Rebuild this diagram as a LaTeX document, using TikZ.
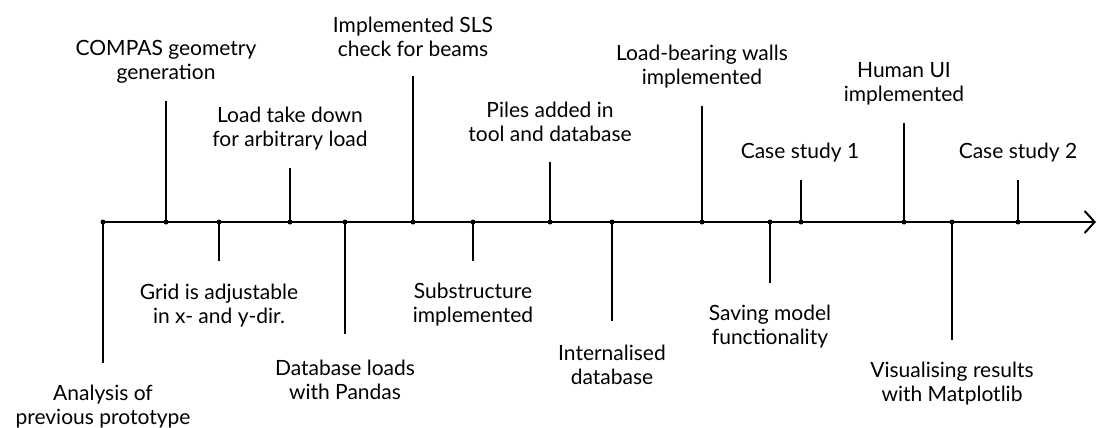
\documentclass[tikz,border=0pt]{standalone}
\usepackage{fontspec}
\setmainfont{Lato}
\usetikzlibrary{arrows.meta}
\tikzset{
  lbl/.style={align=center, inner sep=0pt, font=\fontsize{21}{24}\selectfont},
  tick/.style={line width=1.5pt},
  dot/.style={circle, fill=black, inner sep=0pt, minimum size=5pt},
  axis/.style={line width=2pt, -{Straight Barb[length=10pt,width=22pt,line width=2pt]}}
}
\begin{document}
\begin{tikzpicture}[x=1pt,y=-1pt]
\useasboundingbox (0,0) rectangle (1097,428);
% axis
\coordinate (start) at (103,222);
\coordinate (end) at (1096,222);
\draw[axis] (start) -- (end);
% events: x, tick end y
\foreach \n/\x/\y in {1/103/363, 2/166/101, 3/219/261, 4/290/168, 5/345/334, 6/413/76, 7/473/261, 8/550/162, 9/612/321, 10/702/106, 11/770/283, 12/801/180, 13/904/123, 14/952/340, 15/1018/180}{
  \node[dot] (p\n) at (\x,222) {};
  \coordinate (e\n) at (\x,\y);
  \draw[tick] (p\n.center) -- (e\n);
}
% labels
\node[lbl] (l1) at (103,407) {Analysis of\\previous prototype};
\node[lbl] (l2) at (166,62) {COMPAS geometry\\generation};
\node[lbl] (l3) at (219,306) {Grid is adjustable\\in x- and y-dir.};
\node[lbl] (l4) at (290,129) {Load take down\\for arbitrary load};
\node[lbl] (l5) at (345,380) {Database loads\\with Pandas};
\node[lbl] (l6) at (413,37) {Implemented SLS\\check for beams};
\node[lbl] (l7) at (473,305) {Substructure\\implemented};
\node[lbl] (l8) at (550,122) {Piles added in\\tool and database};
\node[lbl] (l9) at (612,365) {Internalised\\database};
\node[lbl] (l10) at (702,67) {Load-bearing walls\\implemented};
\node[lbl] (l11) at (770,327) {Saving model\\functionality};
\node[lbl] (l12) at (800,153) {Case study 1};
\node[lbl] (l13) at (904,84) {Human UI\\implemented};
\node[lbl] (l14) at (952,384) {Visualising results\\with Matplotlib};
\node[lbl] (l15) at (1018,153) {Case study 2};
\end{tikzpicture}
\end{document}
